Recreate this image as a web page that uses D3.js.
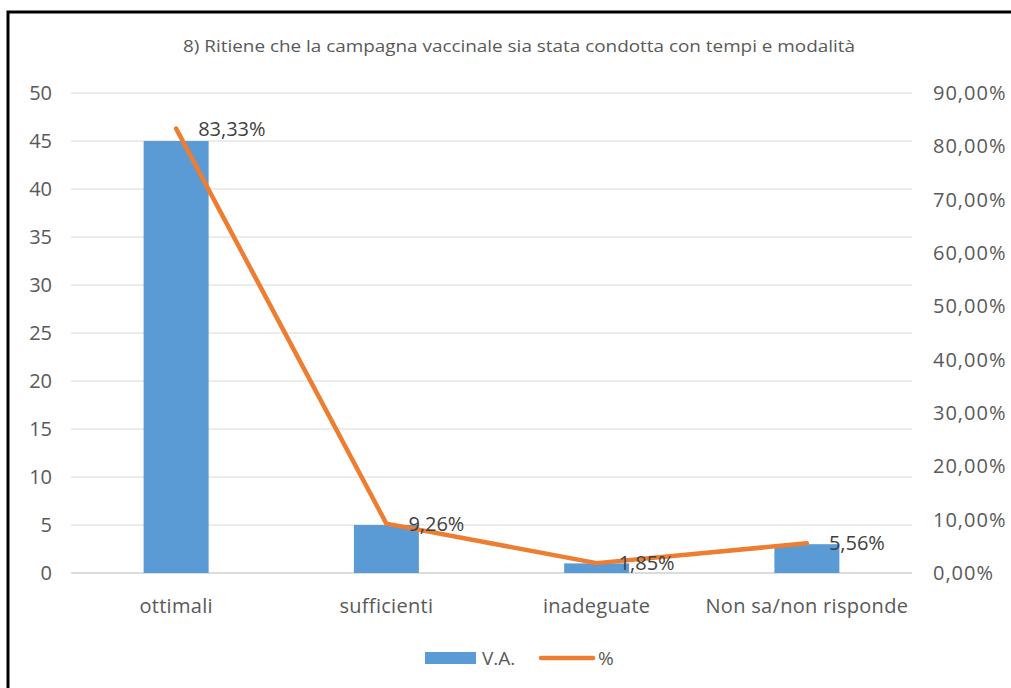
<!DOCTYPE html>
<html>
<head>
<meta charset="utf-8">
<script src="https://cdn.jsdelivr.net/npm/d3@7"></script>
<style>
	body { margin: 0; background: #fff; }
	text { font-family: "Open Sans", sans-serif; fill: #595959; }
</style>
</head>
<body>
<svg id="chart" width="1011" height="688"></svg>
<script>
const categories = ['ottimali', 'sufficienti', 'inadeguate', 'Non sa/non risponde'];
const vaValues = [45, 5, 1, 3];
const pctValues = [0.8333, 0.0926, 0.0185, 0.0556];
const pctLabels = ['83,33%', '9,26%', '1,85%', '5,56%'];
const leftTicks = [0, 5, 10, 15, 20, 25, 30, 35, 40, 45, 50];
const rightTicks = [0, 0.1, 0.2, 0.3, 0.4, 0.5, 0.6, 0.7, 0.8, 0.9];
const title = '8) Ritiene che la campagna vaccinale sia stata condotta con tempi e modalità';

const svg = d3.select('#chart');
const margin = { top: 93, right: 99, bottom: 115, left: 71 };
const width = 1011 - margin.left - margin.right;
const height = 688 - margin.top - margin.bottom;

// outer frame (only top and left edges visible in the picture)
svg.append('path')
	.attr('d', 'M8,1000 V12 H1020')
	.attr('fill', 'none')
	.attr('stroke', '#000')
	.attr('stroke-width', 3);

svg.append('text')
	.attr('x', 519)
	.attr('y', 52)
	.attr('text-anchor', 'middle')
	.style('font-size', '16px')
	.attr('textLength', 672)
	.attr('lengthAdjust', 'spacingAndGlyphs')
	.text(title);

const g = svg.append('g').attr('transform', `translate(${margin.left},${margin.top})`);

const x = d3.scaleBand().domain(categories).range([0, width]).paddingInner(0).paddingOuter(0);
const yLeft = d3.scaleLinear().domain([0, 50]).range([height, 0]);
const yRight = d3.scaleLinear().domain([0, 0.9]).range([height, 0]);

// gridlines
g.append('g')
	.selectAll('line')
	.data(leftTicks)
	.enter()
	.append('line')
		.attr('x1', 0)
		.attr('x2', width)
		.attr('y1', d => yLeft(d))
		.attr('y2', d => yLeft(d))
		.attr('stroke', d => d === 0 ? '#d0d0d0' : '#d9d9d9')
		.attr('stroke-width', d => d === 0 ? 1.5 : 1);

// left axis labels
g.append('g')
	.selectAll('text')
	.data(leftTicks)
	.enter()
	.append('text')
		.attr('x', -19)
		.attr('y', d => yLeft(d))
		.attr('dy', '0.35em')
		.attr('text-anchor', 'end')
		.style('font-size', '20px')
		.text(d => d);

// right axis labels
const pctFmt = d => d3.format('.2f')(d * 100).replace('.', ',') + '%';
g.append('g')
	.selectAll('text')
	.data(rightTicks)
	.enter()
	.append('text')
		.attr('x', width + 21)
		.attr('y', d => yRight(d))
		.attr('dy', '0.35em')
		.attr('text-anchor', 'start')
		.style('font-size', '20px')
		.style('letter-spacing', '1px')
		.text(pctFmt);

// bars
const barW = 65;
g.append('g')
	.selectAll('rect')
	.data(vaValues)
	.enter()
	.append('rect')
		.attr('x', (d, i) => x(categories[i]) + x.bandwidth() / 2 - barW / 2)
		.attr('y', d => yLeft(d))
		.attr('width', barW)
		.attr('height', d => height - yLeft(d))
		.attr('fill', '#5b9bd5');

// category labels
g.append('g')
	.selectAll('text')
	.data(categories)
	.enter()
	.append('text')
		.attr('x', d => x(d) + x.bandwidth() / 2)
		.attr('y', height + 33)
		.attr('dy', '0.35em')
		.attr('text-anchor', 'middle')
		.style('font-size', '20px')
		.style('letter-spacing', '0.3px')
		.text(d => d);

// line
const line = d3.line()
	.x((d, i) => x(categories[i]) + x.bandwidth() / 2)
	.y(d => yRight(d));

g.append('path')
	.datum(pctValues)
	.attr('d', line)
	.attr('fill', 'none')
	.attr('stroke', '#ed7d31')
	.attr('stroke-width', 4.5)
	.attr('stroke-linejoin', 'round')
	.attr('stroke-linecap', 'round');

// data labels
g.append('g')
	.selectAll('text')
	.data(pctValues)
	.enter()
	.append('text')
		.attr('x', (d, i) => x(categories[i]) + x.bandwidth() / 2 + 22)
		.attr('y', d => yRight(d))
		.attr('dy', '0.35em')
		.style('font-size', '20px')
		.style('fill', '#404040')
		.text((d, i) => pctLabels[i]);

// legend
const legend = svg.append('g').attr('transform', 'translate(425,658)');
legend.append('rect')
	.attr('x', 0).attr('y', -6).attr('width', 51).attr('height', 12)
	.attr('fill', '#5b9bd5');
legend.append('text')
	.attr('x', 57).attr('y', 0).attr('dy', '0.35em')
	.style('font-size', '19px')
	.text('V.A.');
legend.append('line')
	.attr('x1', 116).attr('x2', 168).attr('y1', 0).attr('y2', 0)
	.attr('stroke', '#ed7d31').attr('stroke-width', 4.5)
	.attr('stroke-linecap', 'round');
legend.append('text')
	.attr('x', 173).attr('y', 0).attr('dy', '0.35em')
	.style('font-size', '19px')
	.text('%');
</script>
</body>
</html>
